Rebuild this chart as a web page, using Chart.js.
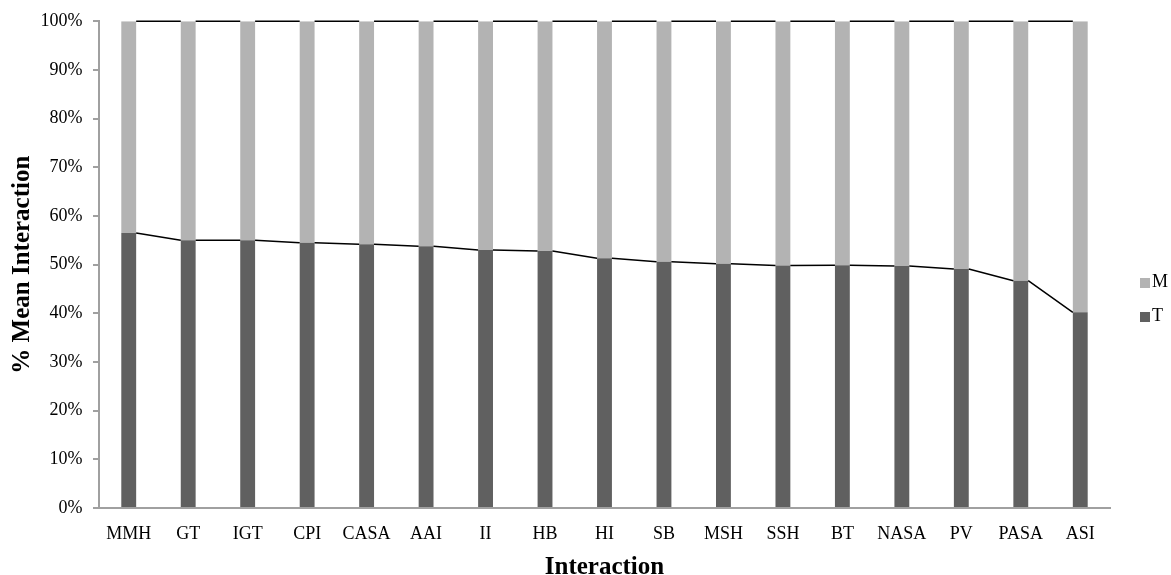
<!DOCTYPE html>
<html>
<head>
<meta charset="utf-8">
<script src="https://cdn.jsdelivr.net/npm/chart.js@4"></script>
<style>
  html, body { margin: 0; padding: 0; background: #fff; }
  #wrap { position: relative; width: 1171px; height: 575px; }
  #legend { position: absolute; left: 1140px; top: 272px; font-family: 'Liberation Serif', 'Times New Roman', serif; font-size: 18px; color: #000; }
  #legend div { height: 34px; line-height: 18px; white-space: nowrap; }
  #legend span.sw { display: inline-block; width: 10px; height: 10px; margin-right: 2px; vertical-align: -1px; }
</style>
</head>
<body>
<div id="wrap">
  <canvas id="chart"></canvas>
  <div id="legend"></div>
</div>
<script>
// interaction categories, in the order shown
const categories = ['MMH', 'GT', 'IGT', 'CPI', 'CASA', 'AAI', 'II', 'HB', 'HI', 'SB',
    'MSH', 'SSH', 'BT', 'NASA', 'PV', 'PASA', 'ASI'];

// share of T in mean interaction (%)
const tValues = [56.5, 55.0, 55.0, 54.5, 54.2, 53.8, 53.0, 52.8, 51.3, 50.6,
    50.2, 49.8, 49.9, 49.7, 49.1, 46.7, 40.2];

// M is the rest up to 100%
const mValues = [43.5, 45.0, 45.0, 45.5, 45.8, 46.2, 47.0, 47.2, 48.7, 49.4,
    49.8, 50.2, 50.1, 50.3, 50.9, 53.3, 59.8];

const yTicks = [0, 10, 20, 30, 40, 50, 60, 70, 80, 90, 100];

const serif = "'Liberation Serif', 'Times New Roman', serif";

// excel-style series lines between the tops of neighbouring bars
const seriesLines = {
    id: 'seriesLines',
    afterDatasetsDraw(chart) {
        const c = chart.ctx;
        c.save();
        c.strokeStyle = '#000';
        c.lineWidth = 1.5;
        chart.data.datasets.forEach((ds, di) => {
            const bars = chart.getDatasetMeta(di).data;
            c.beginPath();
            for (let i = 0; i < bars.length - 1; i++) {
                const a = bars[i], b = bars[i + 1];
                c.moveTo(a.x + a.width / 2, a.y);
                c.lineTo(b.x - b.width / 2, b.y);
            }
            c.stroke();
        });
        c.restore();
    }
};

const myChart = new Chart(document.getElementById('chart'), {
    type: 'bar',
    data: {
        labels: categories,
        datasets: [
            { label: 'T', data: tValues, backgroundColor: '#606060' },
            { label: 'M', data: mValues, backgroundColor: '#b3b3b3' }
        ]
    },
    options: {
        responsive: true,
        maintainAspectRatio: false,
        animation: false,
        layout: { padding: { top: 16, right: 61, left: 15, bottom: 0 } },
        datasets: {
            bar: { barPercentage: 0.25, categoryPercentage: 1.0 }
        },
        plugins: {
            legend: { display: false },
            tooltip: { enabled: false }
        },
        scales: {
            x: {
                stacked: true,
                grid: { display: false, drawTicks: false },
                border: { color: '#a0a0a0', width: 2 },
                ticks: {
                    color: '#000',
                    padding: 17,
                    maxRotation: 0,
                    autoSkip: false,
                    font: { family: serif, size: 18, lineHeight: 1 }
                },
                title: {
                    display: true,
                    text: 'Interaction',
                    color: '#000',
                    padding: 0,
                    font: { family: serif, size: 25, weight: 'bold', lineHeight: 0.6 }
                }
            },
            y: {
                stacked: true,
                min: 0,
                max: 100,
                afterBuildTicks(scale) {
                    scale.ticks = yTicks.map(v => ({ value: v }));
                },
                grid: {
                    display: true,
                    drawOnChartArea: false,
                    drawTicks: true,
                    tickLength: 6,
                    color: '#a0a0a0',
                    lineWidth: 2
                },
                border: { color: '#a0a0a0', width: 2 },
                ticks: {
                    color: '#000',
                    padding: 10.5,
                    font: { family: serif, size: 18 },
                    callback: v => v + '%'
                },
                title: {
                    display: true,
                    text: '% Mean Interaction',
                    color: '#000',
                    padding: 0,
                    font: { family: serif, size: 25, weight: 'bold', lineHeight: 0.6 }
                }
            }
        }
    },
    plugins: [seriesLines]
});

// legend on the right, M above T
const legendBox = document.getElementById('legend');
myChart.data.datasets.slice().reverse().forEach(ds => {
    const row = document.createElement('div');
    row.innerHTML = `<span class="sw" style="background:${ds.backgroundColor}"></span>${ds.label}`;
    legendBox.appendChild(row);
});
</script>
</body>
</html>
